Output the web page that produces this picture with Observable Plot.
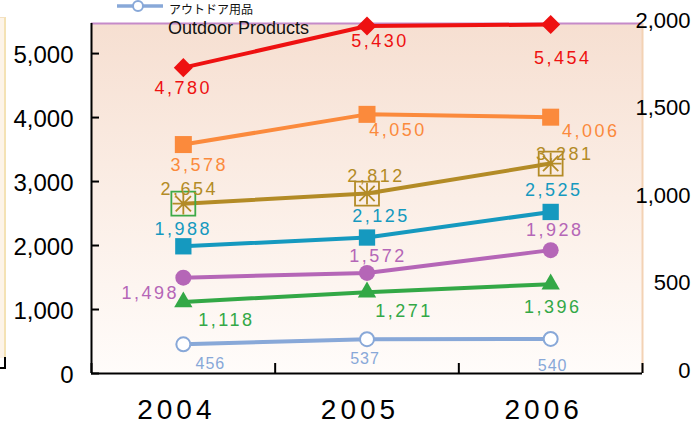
<!DOCTYPE html>
<html><head><meta charset="utf-8">
<script src="https://cdn.jsdelivr.net/npm/d3@7"></script>
<script src="https://cdn.jsdelivr.net/npm/@observablehq/plot@0.6"></script>
<style>
body{margin:0;background:#fff;font-family:"Liberation Sans",Arial,sans-serif;}
#wrap{position:relative;width:691px;height:425px;overflow:hidden;}
#side{position:absolute;left:0;top:17px;width:4px;height:340px;background:#fdf4e8;border-top:1px solid #f3e0c2;border-right:2px solid #f4e2b4;}
#sidek{position:absolute;left:0;top:357px;width:4px;height:10px;border-right:2px solid #000;border-bottom:2px solid #000;}
#legend{position:absolute;left:0;top:0;}
#chart svg, #chart svg text{font-family:"Liberation Sans",Arial,sans-serif;}
g[aria-description="vlabel"] text{letter-spacing:2.5px;}
g[aria-description="vlabel2"] text{letter-spacing:1px;}
g[aria-label="x-axis tick label"] text{letter-spacing:4px;}
</style>
</head><body>
<div id="wrap">
  <div id="side"></div><div id="sidek"></div>
  <div id="chart"></div>
  <svg id="legend" width="330" height="40" xmlns="http://www.w3.org/2000/svg">
    <line x1="117" y1="6" x2="163" y2="6" stroke="#88a8d8" stroke-width="3.5"/>
    <circle cx="138" cy="6" r="5" fill="#fff" stroke="#88a8d8" stroke-width="2"/>
    <text x="169" y="14" font-size="12" font-family="'Noto Sans CJK JP',sans-serif" fill="#111">アウトドア用品</text>
    <text x="168" y="34" font-size="18" font-family="'Liberation Sans',Arial,sans-serif" fill="#111">Outdoor Products</text>
  </svg>
</div>
<script>
// ---- data ----
const years = [2004, 2005, 2006];
const series1 = [4780, 5430, 5454];
const series2 = [3578, 4050, 4006];
const series3 = [2654, 2812, 3281];
const series4 = [1988, 2125, 2525];
const series5 = [1498, 1572, 1928];
const series6 = [1118, 1271, 1396];
const outdoorProducts = [456, 537, 540];
const leftTicks = [0, 1000, 2000, 3000, 4000, 5000];
const rightTicks = [0, 500, 1000, 1500, 2000];
const yMax = 5470;
const rightMax = 2000;

// ---- styles ----
const styles = [
  {values: series1, color: "#ee1111", symbol: "diamond2", r: 8.6, off: [[0,21],[13,15],[12,34]]},
  {values: series2, color: "#fb8a3c", symbol: "square", r: 9.6, off: [[16,21],[31,16],[40,14]]},
  {values: series3, color: "#b38b26", symbol: "box", r: 13.5, off: [[6,-14],[9,-17],[14,-9]]},
  {values: series4, color: "#1599bf", symbol: "square", r: 9.2, off: [[0,-17],[14,-21],[3,-22]]},
  {values: series5, color: "#b566b7", symbol: "circle", r: 8, off: [[-33,16],[11,-17],[4,-20]]},
  {values: series6, color: "#33a846", symbol: "triangle", r: 6.8, off: [[43,18],[37,19],[2,23]]},
  {values: outdoorProducts, color: "#88a8d8", symbol: "open", r: 7, off: [[27,20],[-2,20],[2,27]], small: true}
];
const boxFirstColor = "#3daa48";

const rows = styles.flatMap((s, si) => years.map((y, i) => ({si, year: y, value: s.values[i], i})));
const fmt = d3.format(",");

const star8 = {draw(ctx, size) {
  const r = Math.sqrt(size) / 2;
  for (const a of [0, 45, 90, 135]) {
    const t = a * Math.PI / 180;
    ctx.moveTo(-r * Math.cos(t), -r * Math.sin(t));
    ctx.lineTo(r * Math.cos(t), r * Math.sin(t));
  }
}};

const background = (index, scales, values, dims) => {
  const ns = "http://www.w3.org/2000/svg";
  const g = document.createElementNS(ns, "g");
  const w = dims.width - dims.marginLeft - dims.marginRight;
  const h = dims.height - dims.marginTop - dims.marginBottom;
  g.innerHTML = `<defs><linearGradient id="bgGrad" x1="0" y1="0" x2="0" y2="1">
    <stop offset="0" stop-color="#f6dfd1"/><stop offset="0.5" stop-color="#fbeee6"/><stop offset="1" stop-color="#fffcfa"/>
  </linearGradient></defs>
  <rect x="${dims.marginLeft}" y="${dims.marginTop}" width="${w}" height="${h}" fill="url(#bgGrad)"/>`;
  return g;
};

const marks = [background];
marks.push(Plot.ruleY([yMax], {stroke: "#c58ac9", strokeWidth: 2}));
marks.push(Plot.ruleX([2006.5], {stroke: "#f3d2b4", strokeWidth: 2}));

styles.forEach((s, si) => {
  const data = rows.filter(d => d.si === si);
  marks.push(Plot.line(data, {x: "year", y: "value", stroke: s.color, strokeWidth: 4}));
});
styles.forEach((s, si) => {
  const data = rows.filter(d => d.si === si);
  if (s.symbol === "box") {
    marks.push(Plot.dot(data, {x: "year", y: "value", symbol: "square", r: s.r, fill: "none",
      stroke: d => d.i === 0 ? boxFirstColor : s.color, strokeWidth: 1.8}));
    marks.push(Plot.dot(data, {x: "year", y: "value", symbol: star8, r: 12.2, fill: "none", stroke: s.color, strokeWidth: 1.8}));
  } else if (s.symbol === "open") {
    marks.push(Plot.dot(data, {x: "year", y: "value", symbol: "circle", r: s.r, fill: "#fff", stroke: s.color, strokeWidth: 2}));
  } else {
    marks.push(Plot.dot(data, {x: "year", y: "value", symbol: s.symbol, r: s.r, fill: s.color, stroke: "none"}));
  }
});
styles.forEach((s, si) => {
  rows.filter(d => d.si === si).forEach(d => {
    marks.push(Plot.text([d], {x: "year", y: "value", text: d => fmt(d.value), fill: s.color,
      fontSize: s.small ? 16 : 18, dx: s.off[d.i][0], dy: s.off[d.i][1], lineAnchor: "middle",
      ariaDescription: s.small ? "vlabel2" : "vlabel"}));
  });
});

// axes
marks.push(Plot.ruleX([2003.5], {stroke: "#000", strokeWidth: 2}));
marks.push(Plot.ruleY([0], {stroke: "#000", strokeWidth: 2}));
marks.push(Plot.axisY(leftTicks, {tickSize: -8, fill: "none", stroke: "#000", strokeWidth: 2, label: null}));
marks.push(Plot.axisY(leftTicks, {tickSize: 0, tickPadding: 18, fontSize: 24, dy: 2, tickFormat: fmt, fill: "#000", label: null}));
marks.push(Plot.axisX([2003.5, 2004.5, 2005.5, 2006.5], {tickSize: -10, fill: "none", stroke: "#000", strokeWidth: 2, label: null}));
marks.push(Plot.axisX(years, {tickSize: 0, tickPadding: 26, fontSize: 28, dx: -7, tickFormat: d => String(d), fill: "#000", label: null}));
marks.push(Plot.text(rightTicks, {y: d => d * yMax / rightMax, text: d => fmt(d), frameAnchor: "right",
  dx: 48, dy: -3, textAnchor: "end", fontSize: 22, fill: "#000"}));

const chart = Plot.plot({
  width: 691, height: 425,
  marginLeft: 91, marginRight: 49, marginTop: 23, marginBottom: 52,
  style: {background: "transparent", overflow: "visible", fontFamily: "'Liberation Sans', Arial, sans-serif"},
  x: {type: "linear", domain: [2003.5, 2006.5]},
  y: {domain: [0, yMax]},
  marks
});
document.getElementById("chart").appendChild(chart);
</script>
</body></html>
